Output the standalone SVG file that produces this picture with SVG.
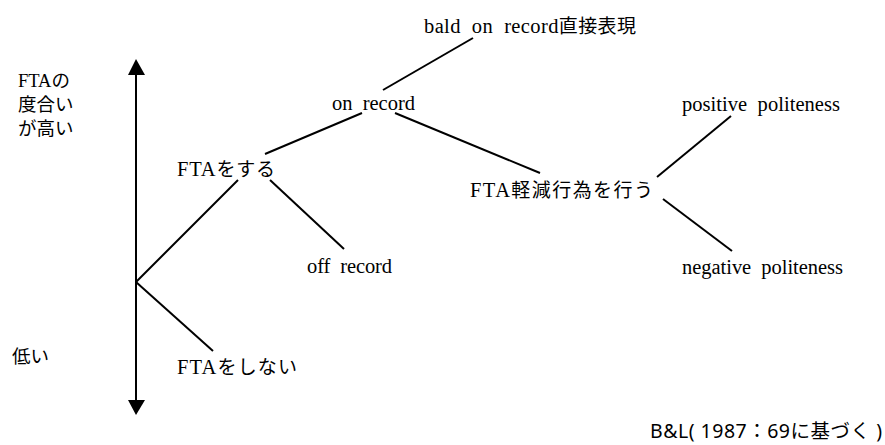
<svg xmlns="http://www.w3.org/2000/svg" width="885" height="445" viewBox="0 0 885 445">
<style>
.t{font-size:20.5px;fill:#000}
.j{font-size:19px}
.k{font-size:18.5px;fill:#000}
.s{font-size:19.5px;fill:#000}
.c line{stroke:#000;stroke-width:2}
</style>
<rect width="885" height="445" fill="#fff"/>
<g id="axis">
<line x1="136" y1="72" x2="136" y2="402" stroke="#000" stroke-width="2"/>
<polygon points="136,59 128,75 145,75" fill="#000"/>
<polygon points="136,415 128,400 145,400" fill="#000"/>
<text class="k" x="18" y="87" font-family="Liberation Serif, Noto Sans CJK JP, serif">FTA<tspan font-family="Noto Sans CJK JP, sans-serif">の</tspan></text>
<text class="k" x="18" y="111" font-family="Noto Sans CJK JP, sans-serif">度合い</text>
<text class="k" x="18" y="135" font-family="Noto Sans CJK JP, sans-serif">が高い</text>
<text class="k" x="12" y="363" font-family="Noto Sans CJK JP, sans-serif">低い</text>
</g>
<g class="c" id="connectors">
<line x1="136" y1="282" x2="238" y2="180"/>
<line x1="136" y1="282" x2="213" y2="351"/>
<line x1="270" y1="180" x2="344" y2="249"/>
<line x1="265" y1="154" x2="362" y2="113"/>
<line x1="383" y1="90" x2="473" y2="38"/>
<line x1="395" y1="113" x2="540" y2="173"/>
<line x1="657" y1="177" x2="731" y2="116"/>
<line x1="663" y1="199" x2="732" y2="251"/>
</g>
<g id="bald"><text class="t" x="424" y="33" font-family="Liberation Serif, serif" textLength="212" xml:space="preserve">bald  on  record<tspan class="j" font-family="Noto Sans CJK JP, sans-serif">直接表現</tspan></text></g>
<g id="onrecord"><text class="t" x="332" y="110" font-family="Liberation Serif, serif" textLength="83" xml:space="preserve">on  record</text></g>
<g id="fta-do"><text class="t" x="177" y="176" font-family="Liberation Serif, serif" textLength="98">FTA<tspan class="j" font-family="Noto Sans CJK JP, sans-serif">をする</tspan></text></g>
<g id="fta-mitigate"><text class="t" x="470" y="197" font-family="Liberation Serif, serif" textLength="183">FTA<tspan class="j" font-family="Noto Sans CJK JP, sans-serif">軽減行為を行う</tspan></text></g>
<g id="positive"><text class="t" x="682" y="111" font-family="Liberation Serif, serif" textLength="158" xml:space="preserve">positive  politeness</text></g>
<g id="negative"><text class="t" x="682" y="274" font-family="Liberation Serif, serif" textLength="161" xml:space="preserve">negative  politeness</text></g>
<g id="offrecord"><text class="t" x="307" y="273" font-family="Liberation Serif, serif" textLength="85" xml:space="preserve">off  record</text></g>
<g id="fta-not"><text class="t" x="177" y="374" font-family="Liberation Serif, serif" textLength="120">FTA<tspan class="j" font-family="Noto Sans CJK JP, sans-serif">をしない</tspan></text></g>
<g id="source"><text class="s" x="650" y="438" font-family="Noto Sans, Noto Sans CJK JP, sans-serif" textLength="232" xml:space="preserve">B&amp;L( 1987：69に基づく )</text></g>
</svg>
